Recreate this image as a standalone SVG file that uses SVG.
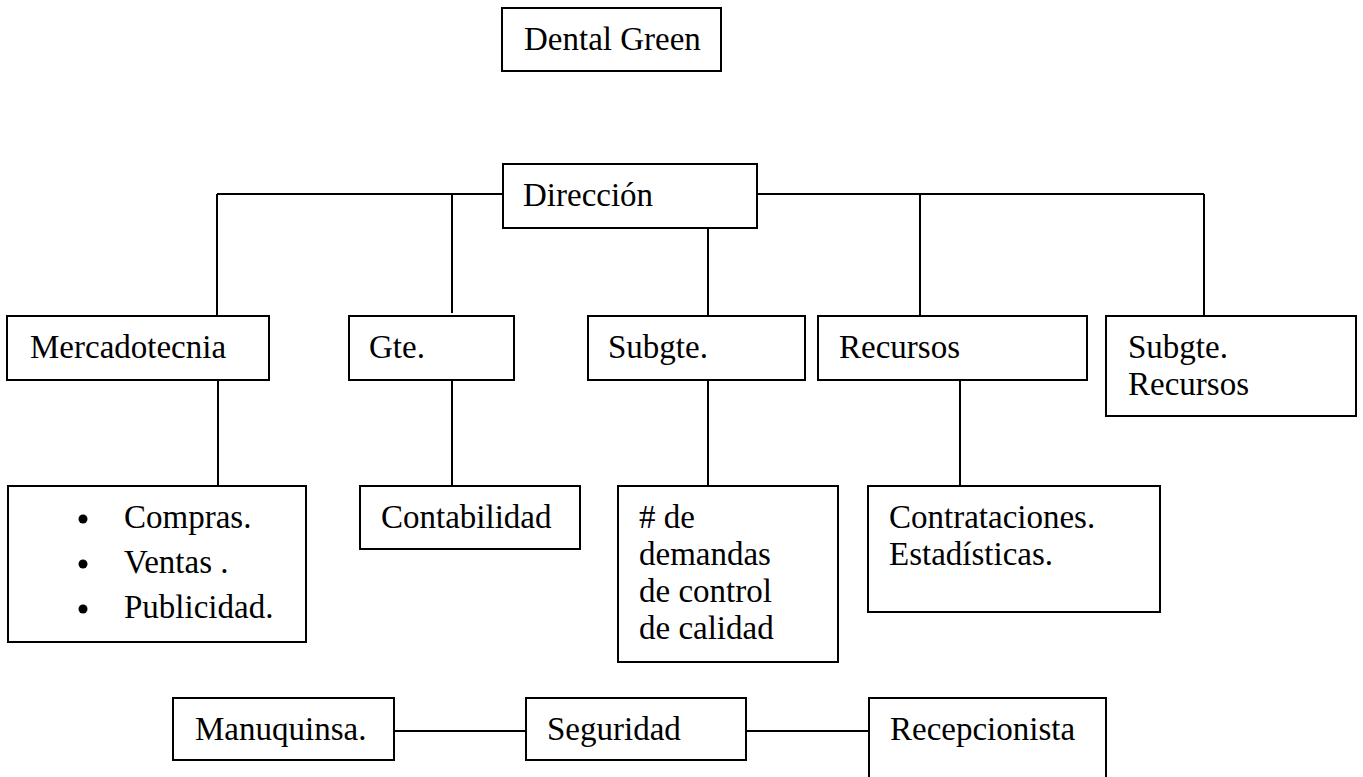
<svg xmlns="http://www.w3.org/2000/svg" width="1363" height="777" viewBox="0 0 1363 777">
<style>
.box{fill:#fff;stroke:#000;stroke-width:2}
.ln{fill:none;stroke:#000;stroke-width:2}
text{font-family:"Liberation Serif","Times New Roman",serif;font-size:33px;fill:#000}
</style>
<rect width="1363" height="777" fill="#fff"/>
<g id="connectors">
<path class="ln" d="M217 194H503M757 194H1204"/>
<path class="ln" d="M217 194V316M452 194V313M708 228V316M920 194V316M1204 194V316"/>
<path class="ln" d="M218 380V486M452 380V486M708 380V486M960 380V486"/>
<path class="ln" d="M394 731H526M746 731H869"/>
</g>
<g id="dental-green"><rect class="box" x="502" y="8" width="219" height="63"/><text x="524" y="50">Dental Green</text></g>
<g id="direccion"><rect class="box" x="503" y="164" width="254" height="64"/><text x="523" y="206">Dirección</text></g>
<g id="mercadotecnia"><rect class="box" x="7" y="316" width="262" height="64"/><text x="30" y="358">Mercadotecnia</text></g>
<g id="gte"><rect class="box" x="349" y="316" width="165" height="64"/><text x="369" y="358">Gte.</text></g>
<g id="subgte"><rect class="box" x="588" y="316" width="217" height="64"/><text x="608" y="358">Subgte.</text></g>
<g id="recursos"><rect class="box" x="818" y="316" width="269" height="64"/><text x="839" y="358">Recursos</text></g>
<g id="subgte-recursos"><rect class="box" x="1106" y="316" width="250" height="100"/><text x="1128" y="358">Subgte.</text><text x="1128" y="395">Recursos</text></g>
<g id="compras"><rect class="box" x="8" y="486" width="298" height="156"/>
<circle cx="83" cy="519" r="4.5"/><circle cx="83" cy="564" r="4.5"/><circle cx="83" cy="609" r="4.5"/>
<text x="124" y="528">Compras.</text><text x="124" y="573">Ventas .</text><text x="124" y="618">Publicidad.</text></g>
<g id="contabilidad"><rect class="box" x="360" y="486" width="220" height="63"/><text x="381" y="528">Contabilidad</text></g>
<g id="demandas"><rect class="box" x="618" y="486" width="220" height="176"/><text x="639" y="528">#&#160;de</text><text x="639" y="565">demandas</text><text x="639" y="602">de control</text><text x="639" y="639">de calidad</text></g>
<g id="contrataciones"><rect class="box" x="868" y="486" width="292" height="126"/><text x="889" y="528">Contrataciones.</text><text x="889" y="565">Estadísticas.</text></g>
<g id="manuquinsa"><rect class="box" x="173" y="698" width="221" height="62"/><text x="195" y="740">Manuquinsa.</text></g>
<g id="seguridad"><rect class="box" x="526" y="698" width="220" height="62"/><text x="547" y="740">Seguridad</text></g>
<g id="recepcionista"><rect class="box" x="869" y="698" width="237" height="100"/><text x="890" y="740">Recepcionista</text></g>
</svg>
